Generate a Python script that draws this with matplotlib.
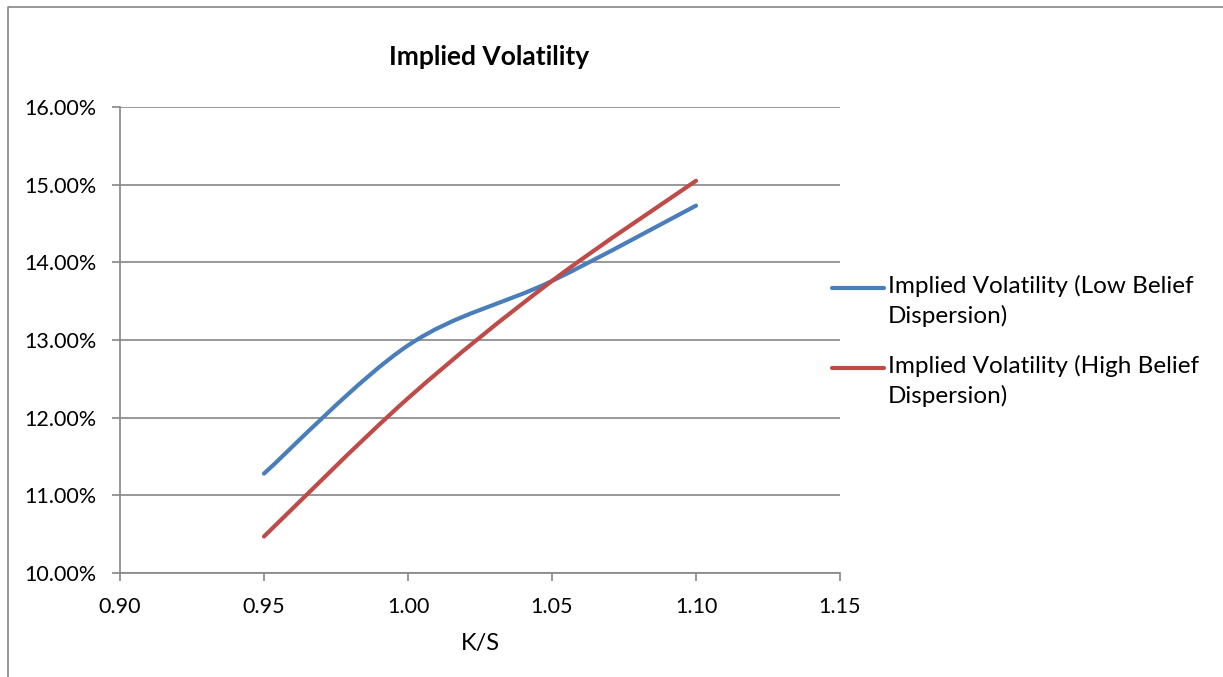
import numpy as np
import matplotlib
matplotlib.use('Agg')
import matplotlib.pyplot as plt
from matplotlib.path import Path
from matplotlib.patches import PathPatch
from matplotlib.lines import Line2D
from matplotlib.ticker import FuncFormatter, MultipleLocator

# data
ks = [0.95, 1.00, 1.05, 1.10]
iv_low = [11.28, 12.93, 13.76, 14.73]   # % (low belief dispersion)
iv_high = [10.47, 12.25, 13.76, 15.05]  # % (high belief dispersion)
labels = ['Implied Volatility (Low Belief\nDispersion)',
          'Implied Volatility (High Belief\nDispersion)']
colors = ['#4A7EBB', '#BE4B48']

plt.rcParams['font.family'] = ['Lato', 'DejaVu Sans']
gray = '#868686'


def smooth_path(x, y):
    # excel-like smoothed line: bezier segments, catmull-rom control points
    pts = np.column_stack([x, y])
    n = len(pts)
    verts = [pts[0]]
    codes = [Path.MOVETO]
    for i in range(n - 1):
        p0 = pts[max(i - 1, 0)]
        p1 = pts[i]
        p2 = pts[i + 1]
        p3 = pts[min(i + 2, n - 1)]
        verts += [p1 + (p2 - p0) / 6, p2 - (p3 - p1) / 6, p2]
        codes += [Path.CURVE4] * 3
    return Path(verts, codes)


fig = plt.figure(figsize=(12.23, 6.77), dpi=100)
ax = fig.add_axes([120 / 1223, 1 - 573 / 677, 720 / 1223, 466 / 677])

for yv, c in zip([iv_low, iv_high], colors):
    ax.add_patch(PathPatch(smooth_path(ks, yv), fill=False, edgecolor=c,
                           linewidth=3, capstyle='round', joinstyle='round',
                           zorder=3))

ax.set_xlim(0.90, 1.15)
ax.set_ylim(10, 16)
ax.xaxis.set_major_locator(MultipleLocator(0.05))
ax.yaxis.set_major_locator(MultipleLocator(1))
ax.xaxis.set_major_formatter(FuncFormatter(lambda v, p: '%.2f' % v))
ax.yaxis.set_major_formatter(FuncFormatter(lambda v, p: '%.2f%%' % v))
ax.yaxis.grid(True, color=gray, linewidth=1.2)
ax.set_axisbelow(True)
for s in ['top', 'right']:
    ax.spines[s].set_visible(False)
for s in ['left', 'bottom']:
    ax.spines[s].set_color(gray)
    ax.spines[s].set_linewidth(1.2)
ax.tick_params(axis='both', direction='out', length=6, width=1.2,
               color=gray, labelsize=15.5, labelcolor='black')
ax.tick_params(axis='y', pad=11)
ax.tick_params(axis='x', pad=11)
ax.set_xlabel('K/S', fontsize=17, labelpad=12)

fig.text(489 / 1223, 1 - 57 / 677, 'Implied Volatility', fontsize=19,
         fontweight='bold', ha='center', va='center')

# legend drawn by hand to sit like excel's
for i, (lab, c) in enumerate(zip(labels, colors)):
    yc = 1 - (288 + 80 * i) / 677
    fig.add_artist(Line2D([832 / 1223, 884 / 1223], [yc, yc], color=c,
                          linewidth=3, solid_capstyle='round',
                          transform=fig.transFigure))
    fig.text(888 / 1223, yc + 13 / 677, lab, fontsize=17.5, ha='left',
             va='top', linespacing=1.42)

# chart border
fig.add_artist(Line2D([8 / 1223, 8 / 1223, 1], [0, 1 - 7 / 677, 1 - 7 / 677],
                      color=gray, linewidth=1.2, transform=fig.transFigure))

fig.savefig('out.png', dpi=100)
